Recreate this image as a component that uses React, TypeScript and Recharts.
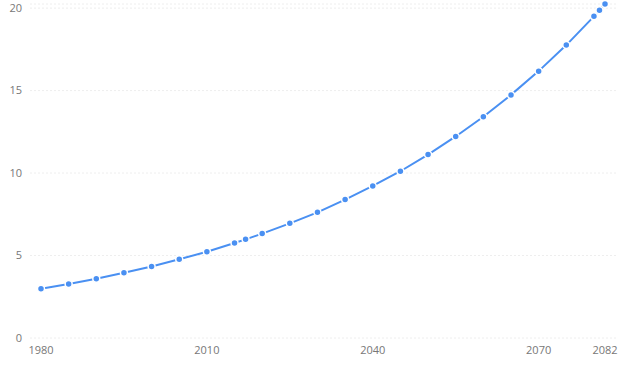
import { LineChart, Line, XAxis, YAxis, CartesianGrid } from 'recharts';

const years = [
  1980, 1985, 1990, 1995, 2000, 2005, 2010, 2015, 2017, 2020, 2025, 2030,
  2035, 2040, 2045, 2050, 2055, 2060, 2065, 2070, 2075, 2080, 2081, 2082,
];
const values = [
  2.99, 3.27, 3.59, 3.96, 4.34, 4.77, 5.23, 5.76, 5.98, 6.33, 6.95, 7.62,
  8.39, 9.22, 10.11, 11.12, 12.22, 13.41, 14.74, 16.18, 17.76, 19.5, 19.87, 20.25,
];
const xTicks = [1980, 2010, 2040, 2070, 2082];
const yTicks = [0, 5, 10, 15, 20];

const data = years.map((year, i) => ({ year, value: values[i] }));

const tickStyle = { fontSize: 11, fill: '#777', fontFamily: "'Open Sans', sans-serif" };

export default function App() {
  return (
    <div style={{ position: 'absolute', left: 0, top: 0 }}>
      <LineChart
        width={627}
        height={368}
        data={data}
        margin={{ top: 4, right: 10, bottom: 0, left: 0 }}
      >
        <CartesianGrid vertical={false} stroke='#eee' strokeDasharray='2 2' />
        <XAxis
          dataKey='year'
          type='number'
          domain={[1980, 2082]}
          ticks={xTicks}
          axisLine={false}
          tickLine={false}
          height={30}
          padding={{ left: 11, right: 12 }}
          tick={tickStyle}
          interval={0}
        />
        <YAxis
          domain={[0, 'dataMax']}
          ticks={yTicks}
          axisLine={false}
          tickLine={false}
          width={30}
          tick={tickStyle}
        />
        <Line
          type='linear'
          dataKey='value'
          stroke='#4a90f2'
          strokeWidth={2}
          dot={{ r: 3.5, fill: '#4a90f2', stroke: '#fff', strokeWidth: 1.5 }}
          isAnimationActive={false}
        />
      </LineChart>
    </div>
  );
}
